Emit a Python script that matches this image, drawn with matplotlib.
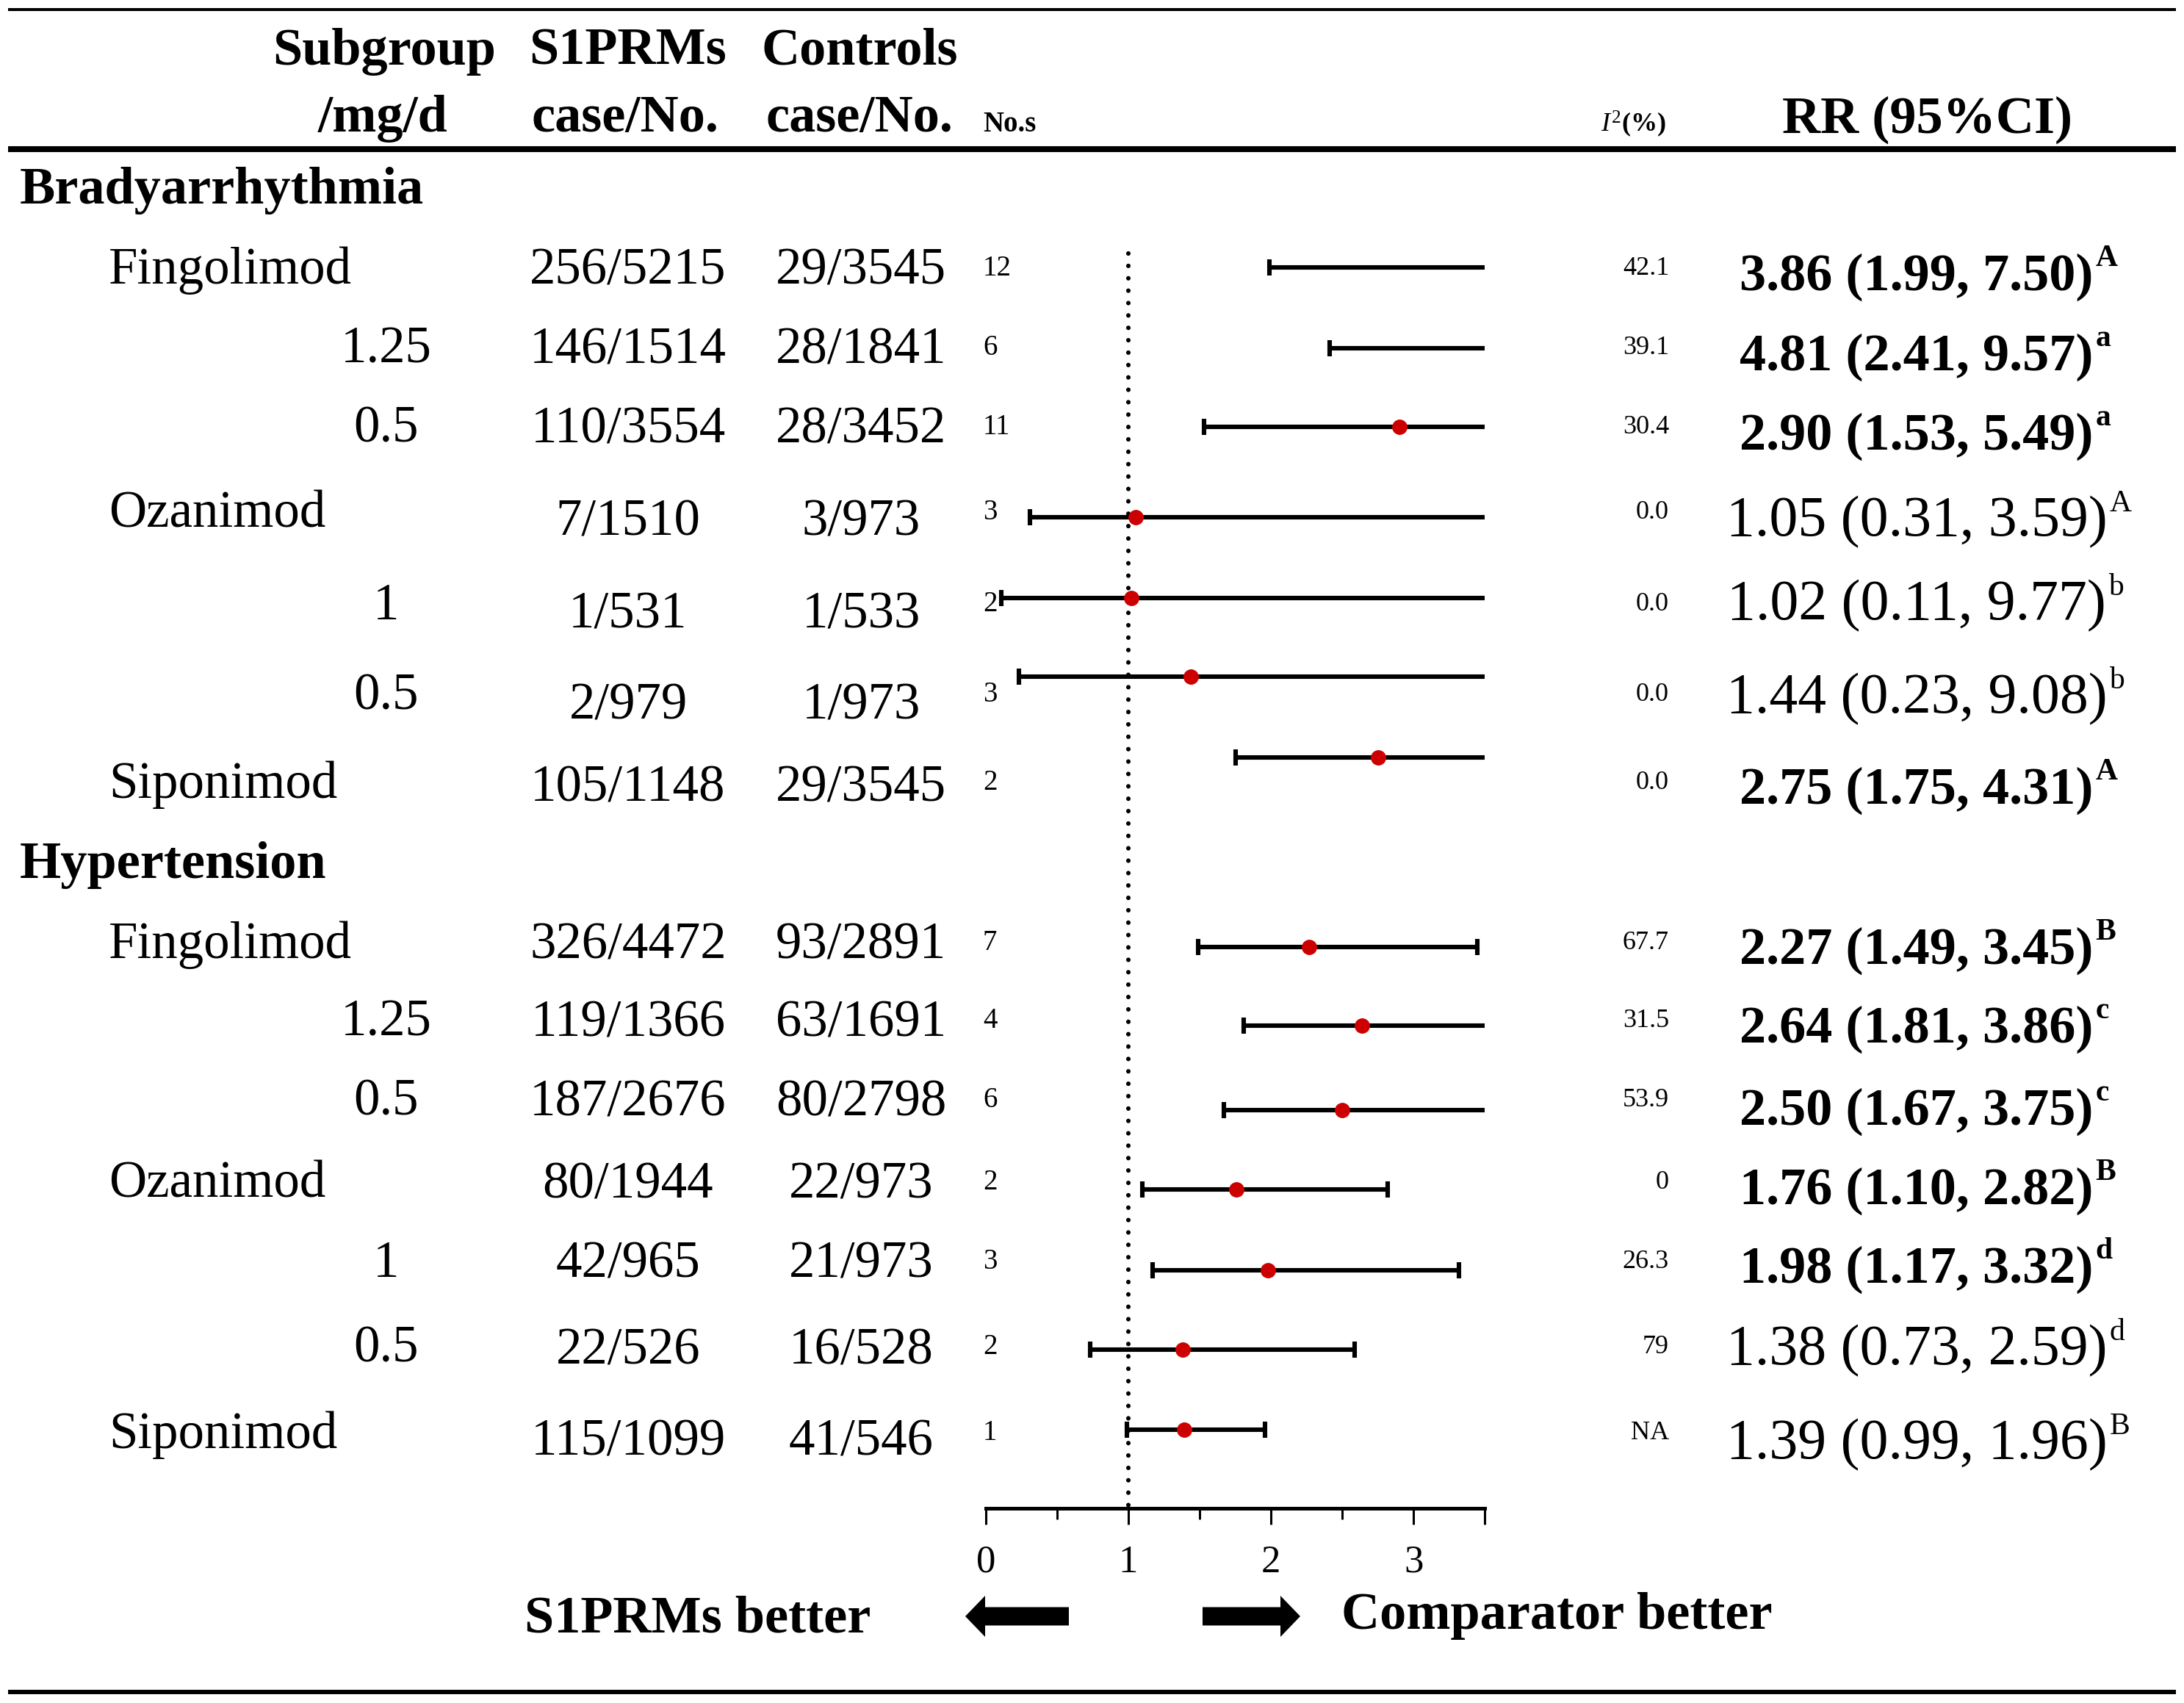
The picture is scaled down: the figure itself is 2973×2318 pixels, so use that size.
import matplotlib
matplotlib.use("Agg")
import matplotlib.pyplot as plt
from matplotlib.patches import FancyArrow

plt.rcParams['font.family'] = ['Liberation Serif', 'DejaVu Serif']
plt.rcParams['mathtext.fontset'] = 'custom'
plt.rcParams['mathtext.rm'] = 'Liberation Serif'
plt.rcParams['mathtext.it'] = 'Liberation Serif:italic'
plt.rcParams['mathtext.bf'] = 'Liberation Serif:bold'

# ---- data ----
drug_names = ['Fingolimod', '', '', 'Ozanimod', '', '', 'Siponimod']
doses = ['', '1.25', '0.5', '', '1', '0.5', '']

brady_s1prm = ['256/5215', '146/1514', '110/3554', '7/1510', '1/531', '2/979', '105/1148']
brady_ctrl = ['29/3545', '28/1841', '28/3452', '3/973', '1/533', '1/973', '29/3545']
brady_nos = [12, 6, 11, 3, 2, 3, 2]
brady_i2 = ['42.1', '39.1', '30.4', '0.0', '0.0', '0.0', '0.0']
brady_rr = [3.86, 4.81, 2.90, 1.05, 1.02, 1.44, 2.75]
brady_lo = [1.99, 2.41, 1.53, 0.31, 0.11, 0.23, 1.75]
brady_hi = [7.50, 9.57, 5.49, 3.59, 9.77, 9.08, 4.31]
brady_sup = ['A', 'a', 'a', 'A', 'b', 'b', 'A']
brady_sig = [True, True, True, False, False, False, True]

hyper_s1prm = ['326/4472', '119/1366', '187/2676', '80/1944', '42/965', '22/526', '115/1099']
hyper_ctrl = ['93/2891', '63/1691', '80/2798', '22/973', '21/973', '16/528', '41/546']
hyper_nos = [7, 4, 6, 2, 3, 2, 1]
hyper_i2 = ['67.7', '31.5', '53.9', '0', '26.3', '79', 'NA']
hyper_rr = [2.27, 2.64, 2.50, 1.76, 1.98, 1.38, 1.39]
hyper_lo = [1.49, 1.81, 1.67, 1.10, 1.17, 0.73, 0.99]
hyper_hi = [3.45, 3.86, 3.75, 2.82, 3.32, 2.59, 1.96]
hyper_sup = ['B', 'c', 'c', 'B', 'd', 'd', 'B']
hyper_sig = [True, True, True, True, True, False, False]

x_ticks = [0, 1, 2, 3, 3.5]
x_ticklabels = ['0', '1', '2', '3', '']
x_minor = [0.5, 1.5, 2.5]

# ---- layout (pixels) ----
W, H = 2973, 2318
y_lab_b = [362, 470, 578, 694, 819, 942, 1062]
y_lab_h = [1280, 1386, 1494, 1606, 1714, 1830, 1947]
y_cnt_b = [362, 470, 578, 705, 830, 954, 1067]
y_cnt_h = [1280, 1386, 1494, 1606, 1714, 1833, 1957]
y_ci_b = [364, 474, 581, 704, 814, 921, 1031]
y_ci_h = [1289, 1396, 1511, 1619, 1729, 1837, 1946]
y_rr_b = [370, 479, 587, 704, 818, 945, 1069]
y_rr_h = [1287, 1394, 1506, 1614, 1721, 1832, 1960]

RED = '#cc0000'
FS = 51        # body text
FS_B = 52      # bold headings
FS_NOS = 28
FS_I2 = 26
FS_SUP = 30

fig = plt.figure(figsize=(W / 100, H / 100), dpi=100)
tax = fig.add_axes([0, 0, 1, 1])
tax.set_xlim(0, W)
tax.set_ylim(H, 0)
tax.axis('off')

# forest axes
AX_L, AX_R, AX_T, AX_B = 1342, 2021, 340, 2053
fax = fig.add_axes([AX_L / W, 1 - AX_B / H, (AX_R - AX_L) / W, (AX_B - AX_T) / H])
fax.set_xlim(0, 3.5)
fax.set_ylim(AX_B, AX_T)
fax.patch.set_alpha(0)
for s in ['top', 'left', 'right']:
    fax.spines[s].set_visible(False)
fax.spines['bottom'].set_linewidth(3.6)
fax.set_yticks([])
fax.set_xticks(x_ticks)
fax.set_xticklabels(x_ticklabels)
fax.set_xticks(x_minor, minor=True)
fax.tick_params(axis='x', which='major', length=16, width=2.2, pad=20, labelsize=38)
fax.tick_params(axis='x', which='minor', length=11, width=2.2)

# null line
fax.plot([1, 1], [345, AX_B], color='black', lw=4.4, ls=(0, (0.01, 2.75)),
         dash_capstyle='round', clip_on=False)

# rules
tax.hlines(13, 11, 2962, color='black', lw=2.9)
tax.hlines(203, 11, 2962, color='black', lw=5.8)
tax.hlines(2303, 11, 2962, color='black', lw=4.3)

# header
tax.text(523, 88, 'Subgroup', fontsize=FS_B, weight='bold', ha='center', va='baseline')
tax.text(521, 179, '/mg/d', fontsize=FS_B, weight='bold', ha='center', va='baseline')
tax.text(855, 88, 'S1PRMs', fontsize=FS_B, weight='bold', ha='center', va='baseline')
tax.text(851, 179, 'case/No.', fontsize=FS_B, weight='bold', ha='center', va='baseline')
tax.text(1170, 88, 'Controls', fontsize=FS_B, weight='bold', ha='center', va='baseline')
tax.text(1170, 179, 'case/No.', fontsize=FS_B, weight='bold', ha='center', va='baseline')
tax.text(1338, 179, 'No.s', fontsize=FS_NOS, weight='bold', ha='left', va='baseline')
tax.text(2223, 179, r'$I^{2}$(%)', fontsize=FS_I2, weight='bold', ha='center', va='baseline')
tax.text(2623, 181, 'RR (95%CI)', fontsize=FS_B, weight='bold', ha='center', va='baseline')

tax.text(27, 277, 'Bradyarrhythmia', fontsize=FS_B, weight='bold', ha='left', va='baseline')
tax.text(27, 1195, 'Hypertension', fontsize=FS_B, weight='bold', ha='left', va='baseline')

renderer = fig.canvas.get_renderer()


def draw_block(y_lab, y_cnt, y_ci, y_rr, s1, ctrl, nos, i2, rr, lo, hi, sup, sig):
    for i in range(len(rr)):
        if drug_names[i]:
            tax.text(148, y_lab[i] + 24, drug_names[i], fontsize=FS, ha='left', va='baseline')
        else:
            tax.text(526, y_lab[i] + 24, doses[i], fontsize=FS, ha='center', va='baseline')
        tax.text(855, y_cnt[i] + 24, s1[i], fontsize=FS, ha='center', va='baseline')
        tax.text(1172, y_cnt[i] + 24, ctrl[i], fontsize=FS, ha='center', va='baseline')
        tax.text(1338, y_lab[i] + 13, str(nos[i]), fontsize=FS_NOS, ha='left', va='baseline')
        tax.text(2272, y_lab[i] + 12, i2[i], fontsize=FS_I2, ha='right', va='baseline')

        # CI line, caps and point estimate
        fax.hlines(y_ci[i], lo[i], hi[i], color='black', lw=4.4)
        fax.vlines([lo[i], hi[i]], y_ci[i] - 11, y_ci[i] + 11, color='black', lw=4.4)
        fax.plot(rr[i], y_ci[i], 'o', color=RED, ms=14, mec=RED, zorder=5)

        wt = 'bold' if sig[i] else 'normal'
        fs = 52 if sig[i] else 56
        base = y_rr[i] + 25
        t = tax.text(2609, base, '%.2f (%.2f, %.2f)' % (rr[i], lo[i], hi[i]),
                     fontsize=fs, weight=wt, ha='center', va='baseline')
        bb = t.get_window_extent(renderer)
        tax.text(bb.x1 + 3, base - 33, sup[i], fontsize=FS_SUP, weight=wt,
                 ha='left', va='baseline')


draw_block(y_lab_b, y_cnt_b, y_ci_b, y_rr_b, brady_s1prm, brady_ctrl, brady_nos,
           brady_i2, brady_rr, brady_lo, brady_hi, brady_sup, brady_sig)
draw_block(y_lab_h, y_cnt_h, y_ci_h, y_rr_h, hyper_s1prm, hyper_ctrl, hyper_nos,
           hyper_i2, hyper_rr, hyper_lo, hyper_hi, hyper_sup, hyper_sig)

# direction arrows
tax.add_patch(FancyArrow(1455, 2200, -141, 0, width=25, head_width=56, head_length=27,
                         length_includes_head=True, color='black', lw=0))
tax.add_patch(FancyArrow(1637, 2200, 133, 0, width=25, head_width=56, head_length=27,
                         length_includes_head=True, color='black', lw=0))
tax.text(714, 2221, 'S1PRMs better', fontsize=FS_B, weight='bold', ha='left', va='baseline')
tax.text(1826, 2217, 'Comparator better', fontsize=FS_B, weight='bold', ha='left', va='baseline')

fig.savefig('out.png', dpi=100)
